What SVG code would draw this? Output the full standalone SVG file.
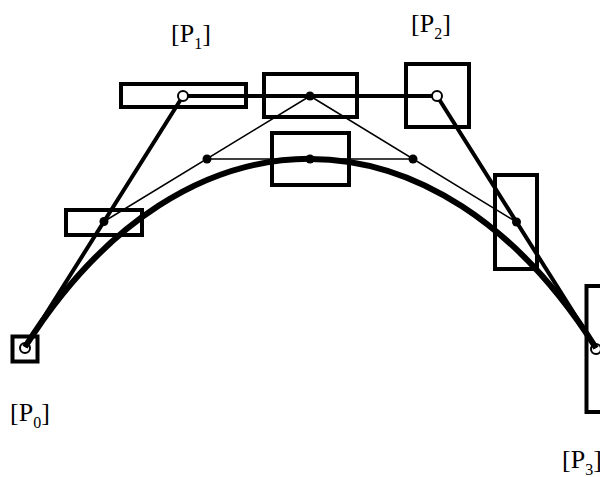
<svg xmlns="http://www.w3.org/2000/svg" width="600" height="477" viewBox="0 0 600 477">
<style>
.box{fill:none;stroke:#000;stroke-width:4}
.thick{fill:none;stroke:#000;stroke-width:4}
.thin{fill:none;stroke:#000;stroke-width:1.5}
.curve{fill:none;stroke:#000;stroke-width:6}
.open{fill:#fff;stroke:#000;stroke-width:2}
.dot{fill:#000}
.lbl{font-family:"Liberation Serif","Times New Roman",serif;font-size:26px;fill:#000}
.sub{font-size:16px}
</style>
<rect width="600" height="477" fill="#fff"/>
<g id="boxes">
<rect class="box" x="12.5" y="336.5" width="25" height="25"/>
<rect class="box" x="121" y="84" width="125" height="23"/>
<rect class="box" x="264" y="74" width="93" height="43"/>
<rect class="box" x="406" y="64" width="63" height="63"/>
<rect class="box" x="272" y="133" width="77" height="52"/>
<rect class="box" x="66" y="210" width="76" height="25"/>
<rect class="box" x="495" y="175" width="42" height="94"/>
<rect class="box" x="586.5" y="286" width="25" height="126"/>
</g>
<g id="P0"><circle class="open" cx="25" cy="348" r="5"/></g>
<g id="P3"><circle class="open" cx="596" cy="349" r="5"/></g>
<g id="connectors">
<path class="curve" d="M25,347 C183,96 437,96 596,348"/>
<polyline class="thick" points="25,347 183,96 437,96 596,348"/>
<polyline class="thin" points="104,221.5 310,96 516.5,222"/>
<line class="thin" x1="207" y1="159" x2="413" y2="159"/>
</g>
<g id="P1"><circle class="open" cx="183" cy="96" r="5"/></g>
<g id="P2"><circle class="open" cx="437" cy="96" r="5"/></g>
<g id="midpoints">
<circle class="dot" cx="104" cy="221.5" r="4.5"/>
<circle class="dot" cx="310" cy="96" r="4.5"/>
<circle class="dot" cx="516.5" cy="222" r="4.5"/>
<circle class="dot" cx="207" cy="159" r="4.5"/>
<circle class="dot" cx="413" cy="159" r="4.5"/>
<circle class="dot" cx="310" cy="159" r="4.5"/>
</g>
<g id="labels">
<text class="lbl" x="171" y="42">[P<tspan class="sub" dy="7">1</tspan><tspan dy="-7">]</tspan></text>
<text class="lbl" x="411" y="32">[P<tspan class="sub" dy="7">2</tspan><tspan dy="-7">]</tspan></text>
<text class="lbl" x="10" y="421">[P<tspan class="sub" dy="7">0</tspan><tspan dy="-7">]</tspan></text>
<text class="lbl" x="562" y="468">[P<tspan class="sub" dy="7">3</tspan><tspan dy="-7">]</tspan></text>
</g>
</svg>
